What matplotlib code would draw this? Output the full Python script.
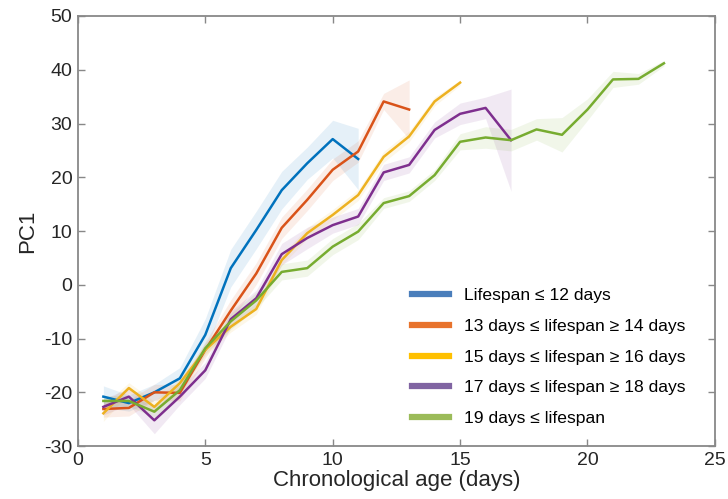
import matplotlib.pyplot as plt
import numpy as np
from matplotlib.lines import Line2D

plt.rcParams['font.family'] = ['Liberation Sans', 'DejaVu Sans']
plt.rcParams['axes.unicode_minus'] = False

# Mean PC1 per chronological age (days), one series per lifespan group
age_blue = np.arange(1, 12)
pc1_blue = [-20.8, -22.0, -20.0, -17.4, -9.3, 3.1, 10.2, 17.6, 22.6, 27.1, 23.4]
err_blue = [2.0, 1.5, 1.5, 2.0, 3.0, 3.5, 3.5, 3.5, 3.0, 3.5, 5.7]

age_orange = np.arange(1, 14)
pc1_orange = [-23.1, -22.9, -20.0, -20.1, -12.1, -4.8, 2.1, 10.6, 15.8, 21.4, 24.8, 34.1, 32.6]
err_orange = [1.5, 1.5, 1.5, 1.5, 1.5, 2.0, 2.0, 2.0, 2.0, 2.0, 2.0, 1.5, 5.5]

age_yellow = np.arange(1, 16)
pc1_yellow = [-23.9, -19.2, -22.7, -18.3, -12.1, -7.8, -4.5, 4.6, 9.6, 13.0, 16.7, 23.8, 27.6, 34.1, 37.6]
err_yellow = [1.5, 1.0, 1.0, 1.0, 1.0, 1.0, 1.0, 1.0, 1.0, 1.0, 1.0, 1.0, 1.0, 0.8, 0.5]

age_purple = np.arange(1, 18)
pc1_purple = [-22.7, -20.8, -25.2, -20.8, -15.9, -6.4, -2.5, 5.7, 8.7, 11.1, 12.7, 20.9, 22.3, 28.8, 31.8, 32.9, 26.9]
err_purple = [1.5, 1.5, 2.5, 1.5, 1.5, 1.5, 1.5, 2.0, 2.0, 1.5, 1.5, 1.5, 1.5, 1.5, 2.0, 2.0, 9.5]

age_green = np.arange(1, 24)
pc1_green = [-21.6, -21.6, -23.6, -19.6, -11.8, -6.8, -2.9, 2.4, 3.1, 7.1, 9.9, 15.2, 16.5, 20.4,
             26.6, 27.4, 26.9, 28.9, 27.9, 32.6, 38.2, 38.3, 41.2]
err_green = [1.0, 1.0, 1.0, 1.0, 1.0, 1.5, 1.5, 1.5, 1.5, 1.5, 1.5, 1.0, 1.0, 1.0,
             1.5, 2.0, 2.0, 2.0, 3.2, 2.0, 1.5, 1.0, 0.5]

labels = ['Lifespan \u2264 12 days',
          '13 days \u2264 lifespan \u2265 14 days',
          '15 days \u2264 lifespan \u2265 16 days',
          '17 days \u2264 lifespan \u2265 18 days',
          '19 days \u2264 lifespan']

line_colors = ['#0072BD', '#D95319', '#EDB120', '#7E2F8E', '#77AC30']
legend_colors = ['#4A7EBB', '#E8732C', '#FFC000', '#8064A2', '#9BBB59']

series = [(age_blue, pc1_blue, err_blue),
          (age_orange, pc1_orange, err_orange),
          (age_yellow, pc1_yellow, err_yellow),
          (age_purple, pc1_purple, err_purple),
          (age_green, pc1_green, err_green)]

fig = plt.figure(figsize=(7.28, 4.99), dpi=100)
ax = fig.add_axes([0.107, 0.106, 0.875, 0.862])

for (x, y, e), c in zip(series, line_colors):
    y = np.array(y)
    e = np.array(e)
    ax.fill_between(x, y - e, y + e, color=c, alpha=0.1, linewidth=0)
for (x, y, e), c in zip(series, line_colors):
    ax.plot(x, y, color=c, linewidth=1.8)

ax.set_xlim(0, 25)
ax.set_ylim(-30, 50)
ax.set_xticks(np.arange(0, 26, 5))
ax.set_yticks(np.arange(-30, 51, 10))
ax.tick_params(direction='in', length=5, width=1, color='#888888',
               labelsize=14, labelcolor='#262626', top=True, right=True, pad=4)
for s in ax.spines.values():
    s.set_color('#888888')
    s.set_linewidth(1.3)

ax.set_xlabel('Chronological age (days)', fontsize=16, color='#262626', labelpad=1)
ax.set_ylabel('PC1', fontsize=16, color='#262626', labelpad=4)

handles = [Line2D([0], [0], color=c, linewidth=4.5) for c in legend_colors]
ax.legend(handles, labels, loc='lower left', bbox_to_anchor=(0.5, 0.01),
          frameon=False, fontsize=12.6, handlelength=2.1, handletextpad=0.86,
          labelspacing=0.88)

fig.savefig('out.png', dpi=100)
